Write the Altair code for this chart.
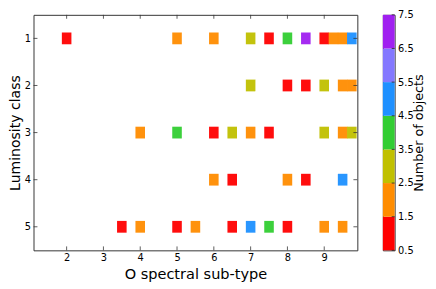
import altair as alt
import pandas as pd

# O spectral sub-type, luminosity class and number of objects per cell
sub_type = [2, 5, 6, 7, 7.5, 8, 8.5, 9, 9.25, 9.5, 9.75,
            7, 8, 8.5, 9, 9.5, 9.75,
            4, 5, 6, 6.5, 7, 7.5, 9, 9.5, 9.75,
            6, 6.5, 8, 8.5, 9.5,
            3.5, 4, 5, 5.5, 6.5, 7, 7.5, 8, 9, 9.5]
lum_class = [1] * 11 + [2] * 6 + [3] * 9 + [4] * 5 + [5] * 10
n_objects = [1, 2, 2, 3, 1, 4, 7, 1, 2, 2, 5,
             3, 1, 1, 3, 2, 2,
             2, 4, 1, 3, 2, 1, 3, 2, 3,
             2, 1, 2, 1, 5,
             1, 2, 1, 2, 1, 5, 4, 1, 2, 2]

count_levels = [1, 2, 3, 4, 5, 6, 7]
count_colors = ["#ff0000", "#ff8c00", "#c0c000", "#32cd32",
                "#1e90ff", "#8478ff", "#a020f0"]
cbar_low = [0.5, 1.5, 2.5, 3.5, 4.5, 5.5, 6.5]
cbar_high = [1.5, 2.5, 3.5, 4.5, 5.5, 6.5, 7.5]
cbar_ticks = [0.5, 1.5, 2.5, 3.5, 4.5, 5.5, 6.5, 7.5]
x_ticks = [2, 3, 4, 5, 6, 7, 8, 9]
y_ticks = [1, 2, 3, 4, 5]

FONT = "DejaVu Sans"
W, H = 330, 240
CW = 12

df = pd.DataFrame({"x": sub_type, "y": lum_class, "n": n_objects})
xt = pd.DataFrame({"t": x_ticks})
yt = pd.DataFrame({"t": y_ticks})
cb = pd.DataFrame({"lo": cbar_low, "hi": cbar_high, "n": count_levels})
ct = pd.DataFrame({"t": cbar_ticks})

xscale = alt.Scale(domain=[1.1, 9.9], nice=False, zero=False)
yscale = alt.Scale(domain=[0.5, 5.5], reverse=True, nice=False, zero=False)
cscale = alt.Scale(domain=count_levels, range=count_colors)
cyscale = alt.Scale(domain=[0.5, 7.5], nice=False, zero=False)

xaxis = alt.Axis(values=x_ticks, title="O spectral sub-type", ticks=False,
                 grid=False, domain=False, labelPadding=2, titlePadding=5,
                 labelFlush=False)
yaxis = alt.Axis(values=y_ticks, title="Luminosity class", ticks=False,
                 grid=False, domain=False, labelPadding=3, titlePadding=2,
                 titleFontSize=14.3, labelFlush=False)
caxis = alt.Axis(orient="right", values=cbar_ticks, format=".1f",
                 title="Number of objects", titleAngle=270,
                 titleBaseline="top", ticks=False, labelFlush=False,
                 grid=False, domain=False, labelPadding=3, titlePadding=0,
                 titleFontSize=13)

rects = alt.Chart(df).transform_calculate(
    x0="datum.x - 0.13", x1="datum.x + 0.13",
    y0="datum.y - 0.125", y1="datum.y + 0.125",
).mark_rect(opacity=0.95).encode(
    x=alt.X("x0:Q", scale=xscale, axis=xaxis),
    x2="x1:Q",
    y=alt.Y("y0:Q", scale=yscale, axis=yaxis),
    y2="y1:Q",
    color=alt.Color("n:O", scale=cscale, legend=None),
)

tick_style = dict(color="#333333", strokeWidth=0.8)
bx = alt.Chart(xt).mark_rule(**tick_style).encode(
    x=alt.X("t:Q", scale=xscale, axis=xaxis), y=alt.value(H), y2=alt.value(H - 4))
tx = alt.Chart(xt).mark_rule(**tick_style).encode(
    x=alt.X("t:Q", scale=xscale, axis=xaxis), y=alt.value(0), y2=alt.value(4))
ly = alt.Chart(yt).mark_rule(**tick_style).encode(
    y=alt.Y("t:Q", scale=yscale, axis=yaxis), x=alt.value(0), x2=alt.value(4))
ry = alt.Chart(yt).mark_rule(**tick_style).encode(
    y=alt.Y("t:Q", scale=yscale, axis=yaxis), x=alt.value(W), x2=alt.value(W - 4))

main = alt.layer(rects, bx, tx, ly, ry).properties(width=W, height=H)

cbar_rects = alt.Chart(cb).mark_rect().encode(
    x=alt.value(0), x2=alt.value(CW),
    y=alt.Y("lo:Q", scale=cyscale, axis=caxis),
    y2="hi:Q",
    color=alt.Color("n:O", scale=cscale, legend=None),
)
cbar_ticks_l = alt.Chart(ct).mark_rule(color="#222222", strokeWidth=0.8).encode(
    y=alt.Y("t:Q", scale=cyscale, axis=caxis), x=alt.value(CW - 3), x2=alt.value(CW))
cbar = alt.layer(cbar_rects, cbar_ticks_l).properties(width=CW, height=H)

chart = alt.hconcat(main, cbar, spacing=24).properties(
    autosize=alt.AutoSizeParams(type="none"),
    padding={"left": 26, "top": 2, "right": 402, "bottom": 279},
    background="white",
).configure_view(
    stroke="#333333", strokeWidth=1
).configure_axis(
    labelFont=FONT, titleFont=FONT, labelFontSize=10, titleFontSize=14.8,
    titleFontWeight="normal", labelColor="black", titleColor="black",
)

chart.save("out.html", embed_options={"renderer": "svg", "actions": False})
